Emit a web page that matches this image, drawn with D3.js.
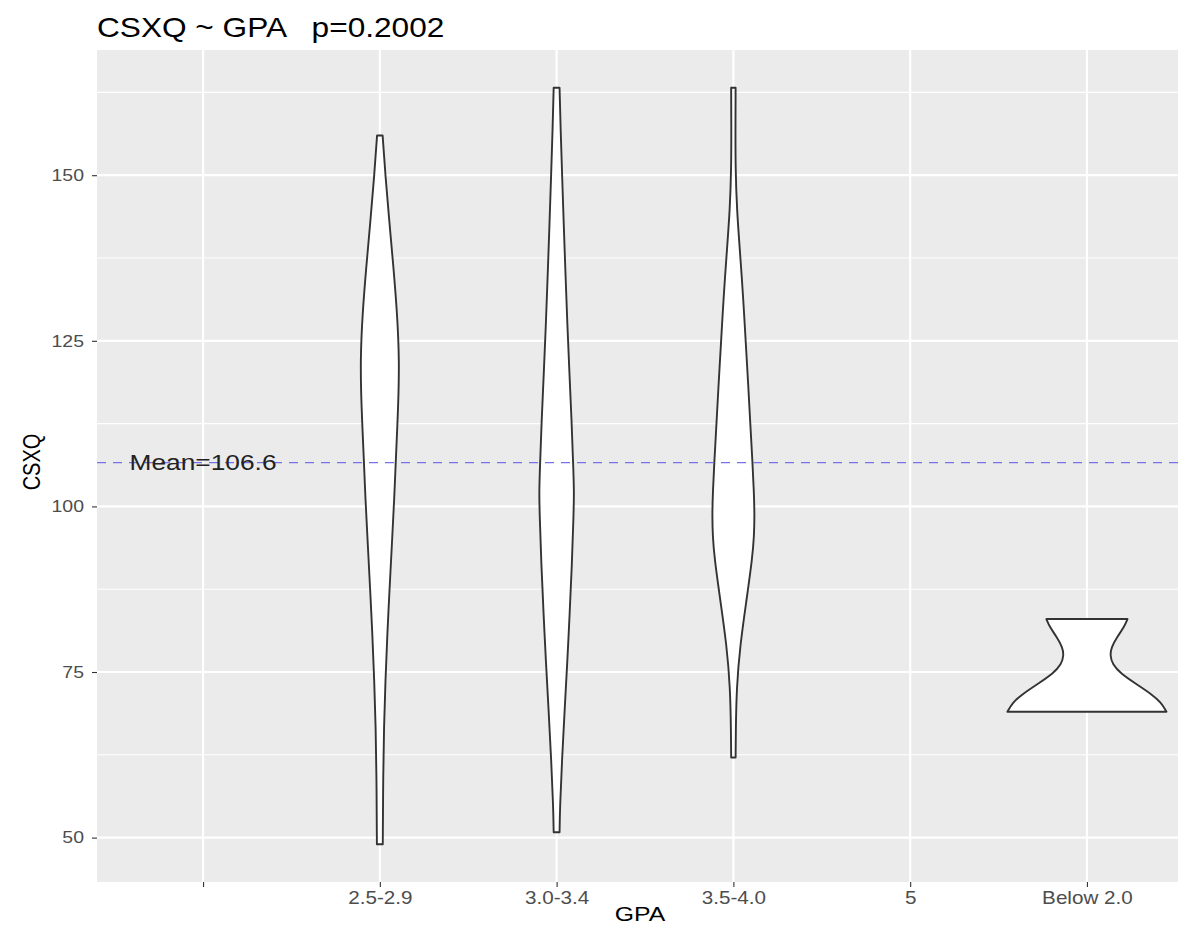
<!DOCTYPE html>
<html><head><meta charset="utf-8">
<script src="https://cdn.jsdelivr.net/npm/d3@7"></script>
<style>body{margin:0;background:#fff} svg{display:block;font-family:"Liberation Sans",Arial,sans-serif}</style>
</head><body>
<svg id="chart" width="1178" height="928"></svg>
<script>
// ---- data ----
const categories = ["", "2.5-2.9", "3.0-3.4", "3.5-4.0", "5", "Below 2.0"];
const yTicks = [50, 75, 100, 125, 150];
const yMinorTicks = [62.5, 87.5, 112.5, 137.5, 162.5];
const meanValue = 106.6;
const meanLabel = "Mean=106.6";
const titleText = "CSXQ ~ GPA   p=0.2002";
const xTitle = "GPA";
const yTitle = "CSXQ";
// violin outlines: [CSXQ value, relative half-width (1 = widest violin)]
const violin_2529 = [[156,0.035],[149.9,0.07],[142.9,0.12],[136,0.172],[129.1,0.218],[122.1,0.245],[115.2,0.232],[106.9,0.2],[101.3,0.182],[94.4,0.152],[87.5,0.122],[80.5,0.093],[73.6,0.07],[66.7,0.052],[59.7,0.042],[49,0.037]];
const violin_3034 = [[163.2,0.037],[157,0.05],[149.7,0.07],[142.4,0.09],[135,0.112],[127.7,0.134],[120.4,0.16],[113.1,0.188],[105.7,0.21],[102.1,0.22],[98.4,0.212],[91.1,0.192],[83.8,0.164],[76.4,0.134],[69.1,0.1],[61.8,0.068],[54.5,0.042],[50.8,0.037]];
const violin_3540 = [[163.2,0.028],[157.8,0.026],[151.2,0.026],[144.7,0.044],[138.1,0.085],[131.6,0.123],[125,0.154],[118.5,0.186],[111.9,0.215],[106.7,0.24],[102.1,0.258],[98.8,0.266],[95.5,0.26],[92.2,0.238],[85.7,0.163],[79.1,0.085],[72.6,0.04],[66,0.03],[62.1,0.028]];
const violin_below20 = [[83,0.51],[81.8,0.468],[80.3,0.38],[78.7,0.305],[77.5,0.292],[76.2,0.318],[74.7,0.43],[73.2,0.62],[71.7,0.808],[70.4,0.934],[69,1.0]];
const violinGroups = ["2.5-2.9", "3.0-3.4", "3.5-4.0", "Below 2.0"];
const violinData = [violin_2529, violin_3034, violin_3540, violin_below20];

// ---- layout ----
const W = 1178, H = 928;
const panel = {left: 97, right: 1193, top: 50, bottom: 882};
const SX = 1.18; // horizontal text stretch

const svg = d3.select("#chart");
svg.append("rect").attr("width", W).attr("height", H).attr("fill", "#fff");

const x = d3.scalePoint().domain(categories).range([panel.left, panel.right]).padding(0.6);
const y = d3.scaleLinear().domain([43.3, 168.9]).range([panel.bottom, panel.top]);
const w = d3.scaleLinear().domain([0, 1]).range([0, 0.45 * x.step()]);

// panel
svg.append("rect").attr("x", panel.left).attr("y", panel.top)
  .attr("width", panel.right - panel.left).attr("height", panel.bottom - panel.top)
  .attr("fill", "#EBEBEB");

const grid = svg.append("g");
grid.selectAll(".minor").data(yMinorTicks).join("line")
  .attr("x1", panel.left).attr("x2", panel.right)
  .attr("y1", d => y(d)).attr("y2", d => y(d))
  .attr("stroke", "#fff").attr("stroke-width", 1.1);
grid.selectAll(".majorY").data(yTicks).join("line")
  .attr("x1", panel.left).attr("x2", panel.right)
  .attr("y1", d => y(d)).attr("y2", d => y(d))
  .attr("stroke", "#fff").attr("stroke-width", 2.2);
grid.selectAll(".majorX").data(categories).join("line")
  .attr("x1", d => x(d)).attr("x2", d => x(d))
  .attr("y1", panel.top).attr("y2", panel.bottom)
  .attr("stroke", "#fff").attr("stroke-width", 2.2);

// violins
const violinG = svg.append("g");
violinGroups.forEach((g, i) => {
  const cx = x(g);
  const area = d3.area()
    .curve(d3.curveBasis)
    .y(d => y(d[0]))
    .x0(d => cx - w(d[1]))
    .x1(d => cx + w(d[1]));
  violinG.append("path").attr("d", area(violinData[i]))
    .attr("fill", "#fff").attr("stroke", "#333").attr("stroke-width", 1.9)
    .attr("stroke-linejoin", "round");
});

// mean line
svg.append("line")
  .attr("x1", panel.left).attr("x2", panel.right)
  .attr("y1", y(meanValue)).attr("y2", y(meanValue))
  .attr("stroke", "#7474e8").attr("stroke-width", 1.3)
  .attr("stroke-dasharray", "9,7");

function stretchedText(parent, tx, ty, txt, opts) {
  const g = parent.append("g").attr("transform", `translate(${tx},${ty}) scale(${SX},1)` + (opts.rotate ? ` rotate(${opts.rotate})` : ""));
  return g.append("text").text(txt)
    .attr("font-size", opts.size).attr("fill", opts.fill || "#000")
    .attr("text-anchor", opts.anchor || "start")
    .attr("dominant-baseline", opts.baseline || "auto")
    .style("white-space", "pre");
}

stretchedText(svg, x(""), y(meanValue), meanLabel, {size: 22.3, anchor: "middle", baseline: "central", fill: "#222"});

// axes
const yAxis = svg.append("g").attr("transform", `translate(${panel.left},0)`)
  .call(d3.axisLeft(y).tickValues(yTicks).tickSize(5).tickPadding(7));
yAxis.select(".domain").remove();
yAxis.selectAll(".tick line").attr("stroke", "#333").attr("stroke-width", 1.1);
yAxis.selectAll(".tick text")
  .attr("font-size", 16.5).attr("fill", "#4D4D4D").attr("font-family", "Liberation Sans, Arial, sans-serif")
  .attr("x", -13 / SX).attr("transform", `scale(${SX},1)`);

const xAxis = svg.append("g").attr("transform", `translate(0,${panel.bottom})`)
  .call(d3.axisBottom(x).tickSize(5).tickPadding(5));
xAxis.select(".domain").remove();
xAxis.selectAll(".tick line").attr("stroke", "#333").attr("stroke-width", 1.1);
xAxis.selectAll(".tick text")
  .attr("font-size", 17.5).attr("fill", "#4D4D4D").attr("font-family", "Liberation Sans, Arial, sans-serif")
  .attr("transform", `scale(${SX},1)`);

// titles
stretchedText(svg, panel.left, 37, titleText, {size: 26.8});
stretchedText(svg, 640, 921, xTitle, {size: 21, anchor: "middle"});
stretchedText(svg, 40, 462, yTitle, {size: 20, anchor: "middle", rotate: -90});
</script>
</body></html>
